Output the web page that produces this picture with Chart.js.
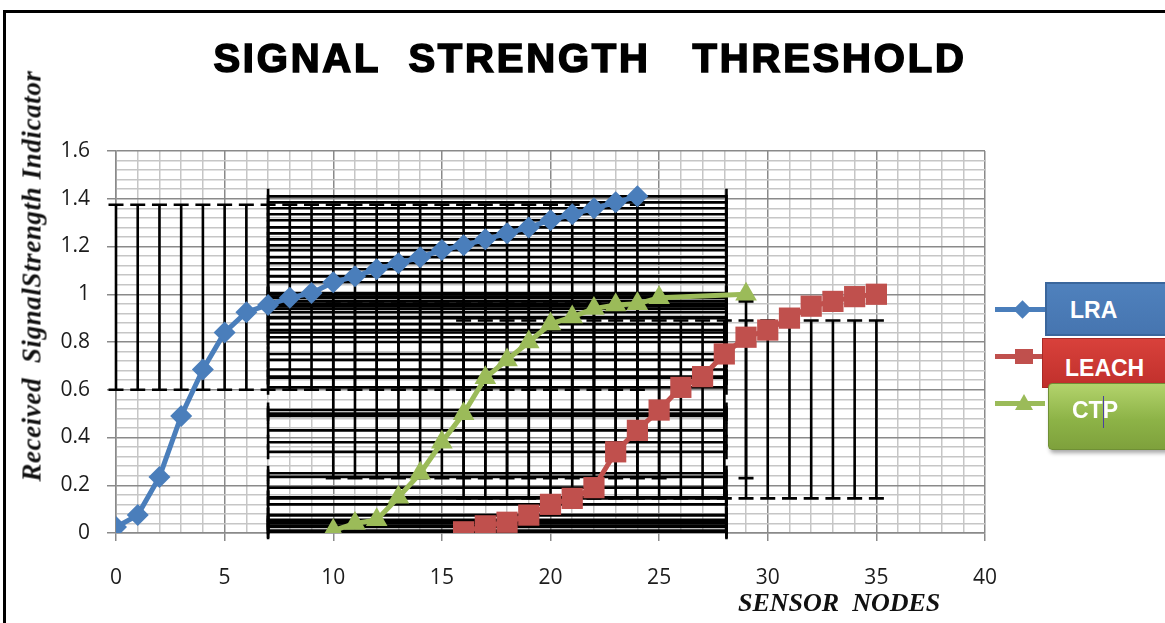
<!DOCTYPE html>
<html>
<head>
<meta charset="utf-8">
<script src="https://cdn.jsdelivr.net/npm/chart.js@4.4.1/dist/chart.umd.min.js"></script>
<style>
  body { margin: 0; background: #fff; }
  .page { position: relative; width: 1165px; height: 623px; overflow: hidden; background: #fff; }
  .frame { position: absolute; left: 3px; top: 10px; width: 1300px; height: 800px; border: 3px solid #000; }
  .chart_box { position: absolute; left: 0; top: 0; width: 1165px; height: 623px; }
  .title {
    position: absolute; left: 590px; top: 38px; transform: translateX(-50%);
    font: bold 40px "Liberation Sans", Arial, sans-serif; line-height: 40px;
    letter-spacing: 2.8px; white-space: pre; color: #000; -webkit-text-stroke: 1.6px #000;
  }
  .y_title {
    position: absolute; left: 32px; top: 276px; transform: translate(-50%, -50%) rotate(-90deg);
    font: italic bold 27px "Liberation Serif", serif; letter-spacing: 0.6px; white-space: pre; color: #111;
  }
  .x_title {
    position: absolute; left: 738px; top: 590px;
    font: italic bold 26px "Liberation Serif", serif; line-height: 26px; white-space: pre; color: #111;
  }
  .lg_line { position: absolute; left: 995px; width: 50px; height: 5px; }
  .lg_box {
    position: absolute; width: 160px; color: #fff;
    font: bold 23px "Liberation Sans", Arial, sans-serif; box-sizing: border-box;
  }
  .lg_box span { position: absolute; }
</style>
</head>
<body>
<div class="page">
  <div class="frame"></div>
  <div class="chart_box"><canvas id="chart"></canvas></div>
  <div class="title">SIGNAL  STRENGTH   THRESHOLD</div>
  <div class="y_title">Received  SignalStrength Indicator</div>
  <div class="x_title">SENSOR  NODES</div>

  <div class="lg_line" style="top:307px;background:#4a7ebb"></div>
  <div style="position:absolute;left:1016px;top:303px;width:13px;height:13px;background:#4a7ebb;transform:rotate(45deg)"></div>
  <div class="lg_box" style="left:1045px;top:282px;height:54px;background:linear-gradient(#4f81bd,#4675b0);border:2px solid #3a669c;z-index:1">
    <span style="left:23px;top:13px">LRA</span>
  </div>

  <div class="lg_line" style="top:354px;background:#c0504d"></div>
  <div style="position:absolute;left:1015px;top:349px;width:18px;height:15px;background:#c0504d"></div>
  <div class="lg_box" style="left:1042px;top:338px;height:50px;background:linear-gradient(#d8413b,#c0302c);border:1px solid #a82a26;z-index:2">
    <span style="left:22px;top:16px">LEACH</span>
  </div>

  <div class="lg_line" style="top:401px;background:#9bbb59"></div>
  <div style="position:absolute;left:1015px;top:394px;width:0;height:0;border-left:9px solid transparent;border-right:9px solid transparent;border-bottom:16px solid #9bbb59"></div>
  <div class="lg_box" style="left:1048px;top:383px;height:67px;border-radius:4px;background:linear-gradient(#b3d36c,#8db347 55%,#7ea13c);border:1px solid #6f8f35;box-shadow:2px 3px 4px rgba(0,0,0,0.35);z-index:3">
    <span style="left:23px;top:13px">CTP</span>
    <span style="left:54px;top:12px;width:1px;height:32px;background:#4b3fa0"></span>
  </div>
</div>

<script>
// series values
const lraX = [0, 1, 2, 3, 4, 5, 6, 7, 8, 9, 10, 11, 12, 13, 14, 15, 16, 17, 18, 19, 20, 21, 22, 23, 24];
const lraY = [0.025, 0.075, 0.235, 0.49, 0.685, 0.84, 0.925, 0.955, 0.985, 1.005, 1.05, 1.075, 1.105, 1.13,
  1.155, 1.185, 1.205, 1.23, 1.255, 1.28, 1.31, 1.335, 1.36, 1.385, 1.41];

const leachX = [16, 17, 18, 19, 20, 21, 22, 23, 24, 25, 26, 27, 28, 29, 30, 31, 32, 33, 34, 35];
const leachY = [0.005, 0.03, 0.045, 0.075, 0.12, 0.145, 0.19, 0.34, 0.43, 0.515, 0.61, 0.655, 0.75, 0.82,
  0.85, 0.9, 0.95, 0.97, 0.99, 1.0];

const ctpX = [10, 11, 12, 13, 14, 15, 16, 17, 18, 19, 20, 21, 22, 23, 24, 25, 29];
const ctpY = [0.01, 0.04, 0.055, 0.15, 0.25, 0.38, 0.5, 0.65, 0.725, 0.8, 0.875, 0.905, 0.94, 0.955, 0.96, 0.985, 1.0];

// error bar ranges (same for every point of a series)
const lraErrY = [0.6, 1.375];
const leachErrY = [0.145, 0.89];
const ctpErrY = [0.23, 0.97];
const errX = [7, 28.1];

// axes
const xTickLabels = [0, 5, 10, 15, 20, 25, 30, 35, 40];
const yTickLabels = [0, 0.2, 0.4, 0.6, 0.8, 1, 1.2, 1.4, 1.6];
const xMinor = 1;
const yMinor = 0.04;

const isMajor = (v, list) => list.some((t) => Math.abs(t - v) < 1e-6);

const toPoints = (xs, ys) => xs.map((x, i) => ({ x: x, y: ys[i] }));

// draws the black error bars under the series lines
const errorBars = {
  id: "errorBars",
  beforeDatasetsDraw(chart) {
    const ctx = chart.ctx;
    const xs = chart.scales.x;
    const ys = chart.scales.y;
    const cap = 7.5;
    ctx.save();
    ctx.strokeStyle = "#000";
    ctx.lineWidth = 2.6;
    chart.data.datasets.forEach((ds) => {
      const lo = ys.getPixelForValue(ds.errY[0]);
      const hi = ys.getPixelForValue(ds.errY[1]);
      const left = xs.getPixelForValue(errX[0]);
      const right = xs.getPixelForValue(errX[1]);
      ds.data.forEach((p) => {
        const px = xs.getPixelForValue(p.x);
        const py = ys.getPixelForValue(p.y);
        ctx.beginPath();
        // vertical bar + caps
        ctx.moveTo(px, lo);
        ctx.lineTo(px, hi);
        ctx.moveTo(px - cap, lo);
        ctx.lineTo(px + cap, lo);
        ctx.moveTo(px - cap, hi);
        ctx.lineTo(px + cap, hi);
        // horizontal bar + caps
        ctx.moveTo(left, py);
        ctx.lineTo(right, py);
        ctx.moveTo(left, py - cap);
        ctx.lineTo(left, py + cap);
        ctx.moveTo(right, py - cap);
        ctx.lineTo(right, py + cap);
        ctx.stroke();
      });
    });
    ctx.restore();
  },
};

const gridColor = (list) => (c) => (isMajor(c.tick.value, list) ? "#8a8a8a" : "#c6c6c6");
const tickColor = (list) => (c) => (isMajor(c.tick.value, list) ? "#8a8a8a" : "rgba(0,0,0,0)");

new Chart(document.getElementById("chart"), {
  type: "scatter",
  data: {
    datasets: [
      {
        label: "LRA",
        data: toPoints(lraX, lraY),
        errY: lraErrY,
        showLine: true,
        borderColor: "#4a7ebb",
        backgroundColor: "#4a7ebb",
        borderWidth: 5,
        pointStyle: "rectRot",
        pointRadius: 11,
        pointBorderWidth: 0,
      },
      {
        label: "LEACH",
        data: toPoints(leachX, leachY),
        errY: leachErrY,
        showLine: true,
        borderColor: "#c0504d",
        backgroundColor: "#c0504d",
        borderWidth: 5,
        pointStyle: "rect",
        pointRadius: 15,
        pointBorderWidth: 0,
      },
      {
        label: "CTP",
        data: toPoints(ctpX, ctpY),
        errY: ctpErrY,
        showLine: true,
        borderColor: "#9bbb59",
        backgroundColor: "#9bbb59",
        borderWidth: 5,
        pointStyle: "triangle",
        pointRadius: 12.5,
        pointBorderWidth: 0,
      },
    ],
  },
  options: {
    responsive: true,
    maintainAspectRatio: false,
    animation: false,
    devicePixelRatio: 1,
    layout: { padding: { top: 151, right: 180, bottom: 0, left: 0 } },
    plugins: {
      legend: { display: false },
      title: { display: false },
      tooltip: { enabled: false },
    },
    scales: {
      x: {
        type: "linear",
        min: 0,
        max: 40,
        afterFit: (s) => { s.height = 90; },
        ticks: {
          stepSize: xMinor,
          autoSkip: false,
          maxRotation: 0,
          padding: 24,
          color: "#1c1c1c",
          font: { family: "Open Sans", size: 21 },
          callback: (v) => (isMajor(v, xTickLabels) ? String(v) : ""),
        },
        grid: {
          color: gridColor(xTickLabels),
          lineWidth: 1.5,
          tickColor: tickColor(xTickLabels),
          tickLength: 8,
        },
        border: { color: "#8a8a8a", width: 1.5 },
      },
      y: {
        type: "linear",
        min: 0,
        max: 1.6,
        afterFit: (s) => { s.width = 116; },
        afterBuildTicks: (s) => {
          const t = [];
          for (let i = 0; i * yMinor <= 1.6 + 1e-9; i++) t.push({ value: Math.round(i * yMinor * 100) / 100 });
          s.ticks = t;
        },
        ticks: {
          autoSkip: false,
          padding: 17,
          color: "#1c1c1c",
          font: { family: "Open Sans", size: 21 },
          callback: (v) => (isMajor(v, yTickLabels) ? String(Math.round(v * 10) / 10) : ""),
        },
        grid: {
          color: gridColor(yTickLabels),
          lineWidth: 1.5,
          tickColor: tickColor(yTickLabels),
          tickLength: 9,
        },
        border: { color: "#8a8a8a", width: 1.5 },
      },
    },
  },
  plugins: [errorBars],
});
</script>
</body>
</html>
